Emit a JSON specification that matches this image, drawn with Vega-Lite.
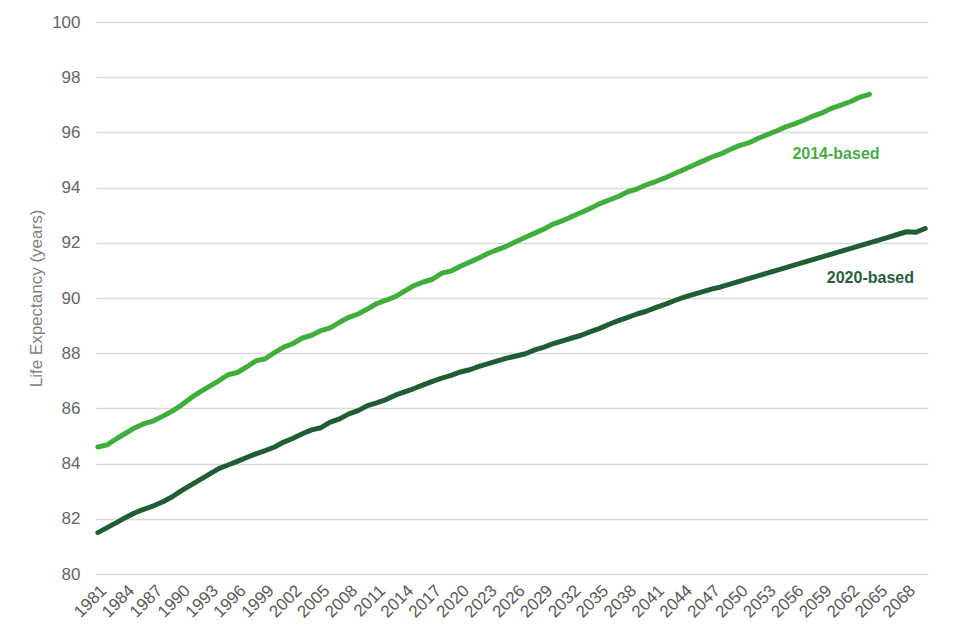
{
  "$schema": "https://vega.github.io/schema/vega-lite/v6.json",
  "width": 832,
  "height": 552,
  "autosize": {"type": "none"},
  "padding": {"left": 96, "top": 22, "right": 32, "bottom": 66},
  "background": "white",
  "config": {
    "view": {"stroke": null},
    "font": "Liberation Sans"
  },
  "datasets": {
    "le": [
      {"year":1981,"series":"2014-based","value":84.6},{"year":1982,"series":"2014-based","value":84.68},{"year":1983,"series":"2014-based","value":84.9},{"year":1984,"series":"2014-based","value":85.1},{"year":1985,"series":"2014-based","value":85.3},{"year":1986,"series":"2014-based","value":85.45},{"year":1987,"series":"2014-based","value":85.55},{"year":1988,"series":"2014-based","value":85.72},{"year":1989,"series":"2014-based","value":85.9},{"year":1990,"series":"2014-based","value":86.12},
      {"year":1991,"series":"2014-based","value":86.38},{"year":1992,"series":"2014-based","value":86.6},{"year":1993,"series":"2014-based","value":86.8},{"year":1994,"series":"2014-based","value":87.0},{"year":1995,"series":"2014-based","value":87.22},{"year":1996,"series":"2014-based","value":87.3},{"year":1997,"series":"2014-based","value":87.5},{"year":1998,"series":"2014-based","value":87.72},{"year":1999,"series":"2014-based","value":87.8},{"year":2000,"series":"2014-based","value":88.02},
      {"year":2001,"series":"2014-based","value":88.22},{"year":2002,"series":"2014-based","value":88.35},{"year":2003,"series":"2014-based","value":88.55},{"year":2004,"series":"2014-based","value":88.65},{"year":2005,"series":"2014-based","value":88.82},{"year":2006,"series":"2014-based","value":88.92},{"year":2007,"series":"2014-based","value":89.12},{"year":2008,"series":"2014-based","value":89.3},{"year":2009,"series":"2014-based","value":89.42},{"year":2010,"series":"2014-based","value":89.6},
      {"year":2011,"series":"2014-based","value":89.8},{"year":2012,"series":"2014-based","value":89.92},{"year":2013,"series":"2014-based","value":90.05},{"year":2014,"series":"2014-based","value":90.25},{"year":2015,"series":"2014-based","value":90.45},{"year":2016,"series":"2014-based","value":90.58},{"year":2017,"series":"2014-based","value":90.68},{"year":2018,"series":"2014-based","value":90.9},{"year":2019,"series":"2014-based","value":90.98},{"year":2020,"series":"2014-based","value":91.15},
      {"year":2021,"series":"2014-based","value":91.3},{"year":2022,"series":"2014-based","value":91.45},{"year":2023,"series":"2014-based","value":91.62},{"year":2024,"series":"2014-based","value":91.75},{"year":2025,"series":"2014-based","value":91.88},{"year":2026,"series":"2014-based","value":92.05},{"year":2027,"series":"2014-based","value":92.2},{"year":2028,"series":"2014-based","value":92.35},{"year":2029,"series":"2014-based","value":92.5},{"year":2030,"series":"2014-based","value":92.68},
      {"year":2031,"series":"2014-based","value":92.8},{"year":2032,"series":"2014-based","value":92.95},{"year":2033,"series":"2014-based","value":93.1},{"year":2034,"series":"2014-based","value":93.25},{"year":2035,"series":"2014-based","value":93.42},{"year":2036,"series":"2014-based","value":93.55},{"year":2037,"series":"2014-based","value":93.68},{"year":2038,"series":"2014-based","value":93.85},{"year":2039,"series":"2014-based","value":93.95},{"year":2040,"series":"2014-based","value":94.1},
      {"year":2041,"series":"2014-based","value":94.22},{"year":2042,"series":"2014-based","value":94.35},{"year":2043,"series":"2014-based","value":94.5},{"year":2044,"series":"2014-based","value":94.65},{"year":2045,"series":"2014-based","value":94.8},{"year":2046,"series":"2014-based","value":94.95},{"year":2047,"series":"2014-based","value":95.1},{"year":2048,"series":"2014-based","value":95.22},{"year":2049,"series":"2014-based","value":95.38},{"year":2050,"series":"2014-based","value":95.52},
      {"year":2051,"series":"2014-based","value":95.62},{"year":2052,"series":"2014-based","value":95.78},{"year":2053,"series":"2014-based","value":95.92},{"year":2054,"series":"2014-based","value":96.05},{"year":2055,"series":"2014-based","value":96.2},{"year":2056,"series":"2014-based","value":96.32},{"year":2057,"series":"2014-based","value":96.45},{"year":2058,"series":"2014-based","value":96.6},{"year":2059,"series":"2014-based","value":96.72},{"year":2060,"series":"2014-based","value":96.88},
      {"year":2061,"series":"2014-based","value":97.0},{"year":2062,"series":"2014-based","value":97.12},{"year":2063,"series":"2014-based","value":97.28},{"year":2064,"series":"2014-based","value":97.38},
      {"year":1981,"series":"2020-based","value":81.5},{"year":1982,"series":"2020-based","value":81.68},{"year":1983,"series":"2020-based","value":81.86},{"year":1984,"series":"2020-based","value":82.05},{"year":1985,"series":"2020-based","value":82.22},{"year":1986,"series":"2020-based","value":82.35},{"year":1987,"series":"2020-based","value":82.47},{"year":1988,"series":"2020-based","value":82.62},{"year":1989,"series":"2020-based","value":82.8},{"year":1990,"series":"2020-based","value":83.02},
      {"year":1991,"series":"2020-based","value":83.22},{"year":1992,"series":"2020-based","value":83.42},{"year":1993,"series":"2020-based","value":83.62},{"year":1994,"series":"2020-based","value":83.82},{"year":1995,"series":"2020-based","value":83.95},{"year":1996,"series":"2020-based","value":84.08},{"year":1997,"series":"2020-based","value":84.22},{"year":1998,"series":"2020-based","value":84.35},{"year":1999,"series":"2020-based","value":84.47},{"year":2000,"series":"2020-based","value":84.6},
      {"year":2001,"series":"2020-based","value":84.78},{"year":2002,"series":"2020-based","value":84.92},{"year":2003,"series":"2020-based","value":85.08},{"year":2004,"series":"2020-based","value":85.22},{"year":2005,"series":"2020-based","value":85.3},{"year":2006,"series":"2020-based","value":85.5},{"year":2007,"series":"2020-based","value":85.62},{"year":2008,"series":"2020-based","value":85.8},{"year":2009,"series":"2020-based","value":85.92},{"year":2010,"series":"2020-based","value":86.1},
      {"year":2011,"series":"2020-based","value":86.2},{"year":2012,"series":"2020-based","value":86.32},{"year":2013,"series":"2020-based","value":86.48},{"year":2014,"series":"2020-based","value":86.6},{"year":2015,"series":"2020-based","value":86.72},{"year":2016,"series":"2020-based","value":86.85},{"year":2017,"series":"2020-based","value":86.98},{"year":2018,"series":"2020-based","value":87.1},{"year":2019,"series":"2020-based","value":87.2},{"year":2020,"series":"2020-based","value":87.32},
      {"year":2021,"series":"2020-based","value":87.4},{"year":2022,"series":"2020-based","value":87.52},{"year":2023,"series":"2020-based","value":87.62},{"year":2024,"series":"2020-based","value":87.72},{"year":2025,"series":"2020-based","value":87.82},{"year":2026,"series":"2020-based","value":87.9},{"year":2027,"series":"2020-based","value":87.98},{"year":2028,"series":"2020-based","value":88.12},{"year":2029,"series":"2020-based","value":88.22},{"year":2030,"series":"2020-based","value":88.35},
      {"year":2031,"series":"2020-based","value":88.45},{"year":2032,"series":"2020-based","value":88.55},{"year":2033,"series":"2020-based","value":88.65},{"year":2034,"series":"2020-based","value":88.78},{"year":2035,"series":"2020-based","value":88.9},{"year":2036,"series":"2020-based","value":89.05},{"year":2037,"series":"2020-based","value":89.18},{"year":2038,"series":"2020-based","value":89.3},{"year":2039,"series":"2020-based","value":89.42},{"year":2040,"series":"2020-based","value":89.52},
      {"year":2041,"series":"2020-based","value":89.65},{"year":2042,"series":"2020-based","value":89.77},{"year":2043,"series":"2020-based","value":89.9},{"year":2044,"series":"2020-based","value":90.02},{"year":2045,"series":"2020-based","value":90.12},{"year":2046,"series":"2020-based","value":90.22},{"year":2047,"series":"2020-based","value":90.32},{"year":2048,"series":"2020-based","value":90.4},{"year":2049,"series":"2020-based","value":90.5},{"year":2050,"series":"2020-based","value":90.6},
      {"year":2051,"series":"2020-based","value":90.7},{"year":2052,"series":"2020-based","value":90.8},{"year":2053,"series":"2020-based","value":90.9},{"year":2054,"series":"2020-based","value":91.0},{"year":2055,"series":"2020-based","value":91.1},{"year":2056,"series":"2020-based","value":91.2},{"year":2057,"series":"2020-based","value":91.3},{"year":2058,"series":"2020-based","value":91.4},{"year":2059,"series":"2020-based","value":91.5},{"year":2060,"series":"2020-based","value":91.6},
      {"year":2061,"series":"2020-based","value":91.7},{"year":2062,"series":"2020-based","value":91.8},{"year":2063,"series":"2020-based","value":91.9},{"year":2064,"series":"2020-based","value":92.0},{"year":2065,"series":"2020-based","value":92.1},{"year":2066,"series":"2020-based","value":92.2},{"year":2067,"series":"2020-based","value":92.3},{"year":2068,"series":"2020-based","value":92.4},{"year":2069,"series":"2020-based","value":92.38},{"year":2070,"series":"2020-based","value":92.52}
    ],
    "labels": [
      {"series":"2014-based","year":2060.4,"value":95.2},
      {"series":"2020-based","year":2064.1,"value":90.72}
    ]
  },
  "encoding": {
    "x": {
      "field": "year", "type": "quantitative",
      "scale": {"domain": [1980.8, 2070.3], "nice": false, "zero": false},
      "axis": {
        "title": null,
        "values": [1981,1984,1987,1990,1993,1996,1999,2002,2005,2008,2011,2014,2017,2020,2023,2026,2029,2032,2035,2038,2041,2044,2047,2050,2053,2056,2059,2062,2065,2068],
        "format": "d",
        "labelAngle": -45,
        "labelAlign": "right",
        "labelBaseline": "top",
        "labelPadding": 8,
        "labelFontSize": 17,
        "labelColor": "#595959",
        "labelOverlap": false,
        "labelSeparation": 0,
        "labelFlush": false,
        "grid": false,
        "ticks": false,
        "domain": false
      }
    },
    "y": {
      "field": "value", "type": "quantitative",
      "scale": {"domain": [80, 100], "nice": false, "zero": false},
      "axis": {
        "title": "Life Expectancy (years)",
        "titleFontSize": 17,
        "titleFontWeight": "normal",
        "titleColor": "#7f7f7f",
        "titlePadding": 6,
        "values": [80,82,84,86,88,90,92,94,96,98,100],
        "labelFontSize": 17,
        "labelColor": "#666666",
        "labelPadding": 16,
        "gridColor": "#d9d9d9",
        "gridWidth": 1.5,
        "ticks": false,
        "domain": false
      }
    }
  },
  "layer": [
    {
      "data": {"name": "le"},
      "mark": {"type": "line", "strokeWidth": 5, "strokeCap": "round", "strokeJoin": "round"},
      "encoding": {
        "color": {
          "field": "series", "type": "nominal",
          "scale": {"domain": ["2014-based", "2020-based"], "range": ["#3fae3a", "#1f5e33"]},
          "legend": null
        }
      }
    },
    {
      "data": {"name": "labels"},
      "mark": {"type": "text", "fontSize": 16, "fontWeight": "bold", "align": "center", "baseline": "middle"},
      "encoding": {
        "text": {"field": "series"},
        "color": {
          "field": "series", "type": "nominal",
          "scale": {"domain": ["2014-based", "2020-based"], "range": ["#4aab45", "#2a5e3a"]},
          "legend": null
        }
      }
    }
  ],
  "resolve": {"scale": {"color": "independent"}}
}
